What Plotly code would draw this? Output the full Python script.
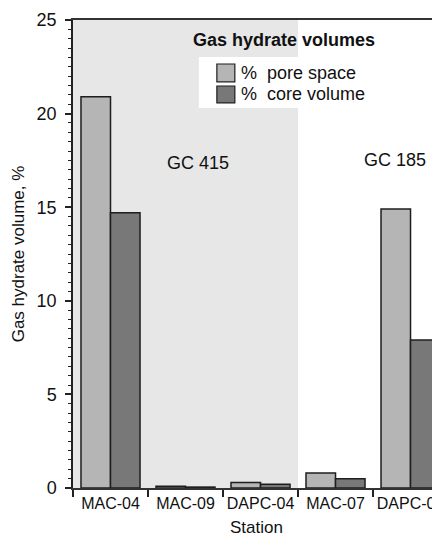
import plotly.graph_objects as go

stations = ["MAC-04", "MAC-09", "DAPC-04", "MAC-07", "DAPC-01"]
pore_space = [20.9, 0.1, 0.3, 0.8, 14.9]
core_volume = [14.7, 0.05, 0.2, 0.5, 7.9]
series_names = ["% pore space", "% core volume"]
site_labels = ["GC 415", "GC 185"]

FONT = "Liberation Sans, Arial, Helvetica, sans-serif"
PORE_C = "#b5b5b5"
CORE_C = "#787878"
EDGE = "#1e1e1e"

fig = go.Figure()
fig.add_trace(go.Bar(x=stations, y=pore_space, name=series_names[0],
                     marker=dict(color=PORE_C, line=dict(color=EDGE, width=1.5)),
                     showlegend=False))
fig.add_trace(go.Bar(x=stations, y=core_volume, name=series_names[1],
                     marker=dict(color=CORE_C, line=dict(color=EDGE, width=1.5)),
                     showlegend=False))

shapes = [
    # GC 415 shaded region (first three stations)
    dict(type="rect", xref="x", yref="paper", x0=-0.5, x1=2.5, y0=0, y1=1,
         fillcolor="#e7e7e7", line=dict(width=0), layer="below"),
    # legend white box
    dict(type="rect", xref="paper", yref="paper", x0=0.343, x1=0.83, y0=0.812, y1=0.921,
         fillcolor="white", line=dict(width=0), layer="below"),
    # legend swatches
    dict(type="rect", xref="paper", yref="paper", x0=0.392, x1=0.441, y0=0.868, y1=0.906,
         fillcolor=PORE_C, line=dict(color=EDGE, width=1.2), layer="above"),
    dict(type="rect", xref="paper", yref="paper", x0=0.392, x1=0.441, y0=0.823, y1=0.859,
         fillcolor=CORE_C, line=dict(color=EDGE, width=1.2), layer="above"),
]

annotations = [
    dict(text="<b>Gas hydrate volumes</b>", xref="paper", yref="paper", x=0.574, y=0.957,
         showarrow=False, font=dict(size=18, color="#111", family=FONT), xanchor="center", yanchor="middle"),
    dict(text="%", xref="paper", yref="paper", x=0.452, y=0.887, showarrow=False,
         font=dict(size=18, color="#111", family=FONT), xanchor="left", yanchor="middle"),
    dict(text="pore space", xref="paper", yref="paper", x=0.523, y=0.887, showarrow=False,
         font=dict(size=18, color="#111", family=FONT), xanchor="left", yanchor="middle"),
    dict(text="%", xref="paper", yref="paper", x=0.452, y=0.841, showarrow=False,
         font=dict(size=18, color="#111", family=FONT), xanchor="left", yanchor="middle"),
    dict(text="core volume", xref="paper", yref="paper", x=0.523, y=0.841, showarrow=False,
         font=dict(size=18, color="#111", family=FONT), xanchor="left", yanchor="middle"),
    dict(text=site_labels[0], xref="paper", yref="paper", x=0.341, y=0.694, showarrow=False,
         font=dict(size=18, color="#111", family=FONT), xanchor="center", yanchor="middle"),
    dict(text=site_labels[1], xref="paper", yref="paper", x=0.877, y=0.701, showarrow=False,
         font=dict(size=18, color="#111", family=FONT), xanchor="center", yanchor="middle"),
]

# page body has an 8px margin, so the figure is sized to the visible area
fig.update_layout(
    width=432, height=530,
    margin=dict(l=65, r=0, t=12, b=50),
    paper_bgcolor="white", plot_bgcolor="white",
    barmode="group", bargap=0.213, bargroupgap=0,
    font=dict(family=FONT, size=18, color="#111"),
    shapes=shapes, annotations=annotations,
    showlegend=False,
)
fig.update_xaxes(
    range=[-0.5, 4.393], tickson="boundaries", ticks="outside", ticklen=7, tickwidth=1.5,
    tickcolor="#222", showline=True, linecolor="#333", linewidth=1.5, mirror=True,
    showgrid=False, zeroline=False, tickangle=0,
    tickfont=dict(family=FONT, size=16, color="#111"),
    title=dict(text="Station", font=dict(family=FONT, size=17, color="#111"), standoff=10),
    automargin=False,
)
fig.update_yaxes(
    range=[0, 25], dtick=5, ticks="outside", ticklen=6, tickwidth=1.5, tickcolor="#222",
    minor=dict(dtick=0.5, ticks="outside", ticklen=3, tickwidth=1, tickcolor="#222"),
    showline=True, linecolor="#222", linewidth=1.5, showgrid=False, zeroline=False,
    ticklabelstandoff=5,
    tickfont=dict(family=FONT, size=18, color="#111"),
    title=dict(text="Gas hydrate volume, %", font=dict(family=FONT, size=17, color="#111"), standoff=8),
    automargin=False,
)

fig.write_html("out.html")
